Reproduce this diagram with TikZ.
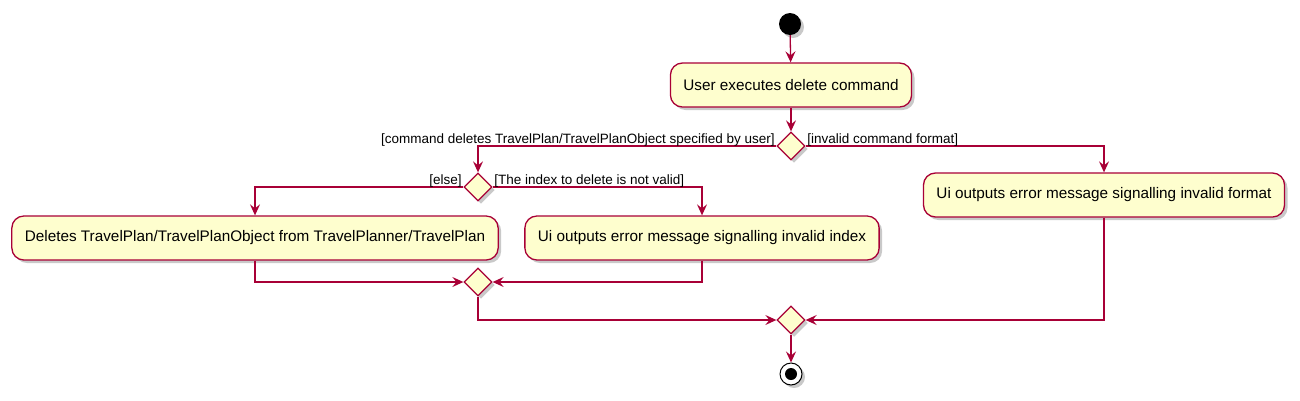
\documentclass[tikz,border=0pt]{standalone}
\usepackage{fontspec}
\setmainfont{Liberation Sans}
\usetikzlibrary{shapes.geometric,arrows.meta,shadows}
\definecolor{umlred}{HTML}{A80036}
\definecolor{umlfill}{HTML}{FEFECE}

\begin{document}
\begin{tikzpicture}[x=1pt,y=-1pt,
    shade/.style={drop shadow={shadow xshift=3pt,shadow yshift=-3pt,opacity=0.3,fill=black!70}},
    act/.style={draw=umlred,fill=umlfill,line width=1.3pt,rounded corners=12pt,minimum height=44pt,inner xsep=13pt,font=\fontsize{15.3}{18}\selectfont,shade},
    dec/.style={diamond,draw=umlred,fill=umlfill,line width=1.3pt,minimum width=28pt,minimum height=28pt,inner sep=0pt,shade},
    flow/.style={draw=umlred,line width=1.3pt,-{Stealth[length=11pt,width=10pt,inset=4pt]}},
    guard/.style={font=\fontsize{13.5}{16}\selectfont,inner sep=1pt,yshift=3pt}]
        \useasboundingbox(0,0)rectangle(1300,400);
        \node[circle,fill=black,minimum size=22pt,inner sep=0pt,shade](start)at(790,24){};
        \node[act](exec)at(791,85){User executes delete command};
        \node[dec](chk)at(791,146){};
        \node[dec](idx)at(478,187){};
        \node[act](del)at(255,238){Deletes TravelPlan/TravelPlanObject from TravelPlanner/TravelPlan};
        \node[act](badidx)at(702,238){Ui outputs error message signalling invalid index};
        \node[act](badfmt)at(1104,195){Ui outputs error message signalling invalid format};
        \node[dec](mrgA)at(478,282){};
        \node[dec](mrgB)at(791,320){};
        \node[circle,draw=black,fill=white,line width=1pt,minimum size=22pt,inner sep=0pt,shade](stop)at(791,374){};
        \node[circle,fill=black,minimum size=12pt,inner sep=0pt](stopdot)at(stop){};

        \draw[flow](start)--(exec);
        \draw[flow](exec)--(chk);
        \draw[flow](chk.west)node[guard,anchor=base east]{[command deletes TravelPlan/TravelPlanObject specified by user]}-|(idx.north);
        \draw[flow](chk.east)node[guard,anchor=base west]{[invalid command format]}-|(badfmt.north);
        \draw[flow](idx.west)node[guard,anchor=base east]{[else]}-|(del.north);
        \draw[flow](idx.east)node[guard,anchor=base west]{[The index to delete is not valid]}-|(badidx.north);
        \draw[flow](del.south)|-(mrgA.west);
        \draw[flow](badidx.south)|-(mrgA.east);
        \draw[flow](mrgA.south)|-(mrgB.west);
        \draw[flow](badfmt.south)|-(mrgB.east);
        \draw[flow](mrgB)--(stop);

    \end{tikzpicture}
\end{document}
